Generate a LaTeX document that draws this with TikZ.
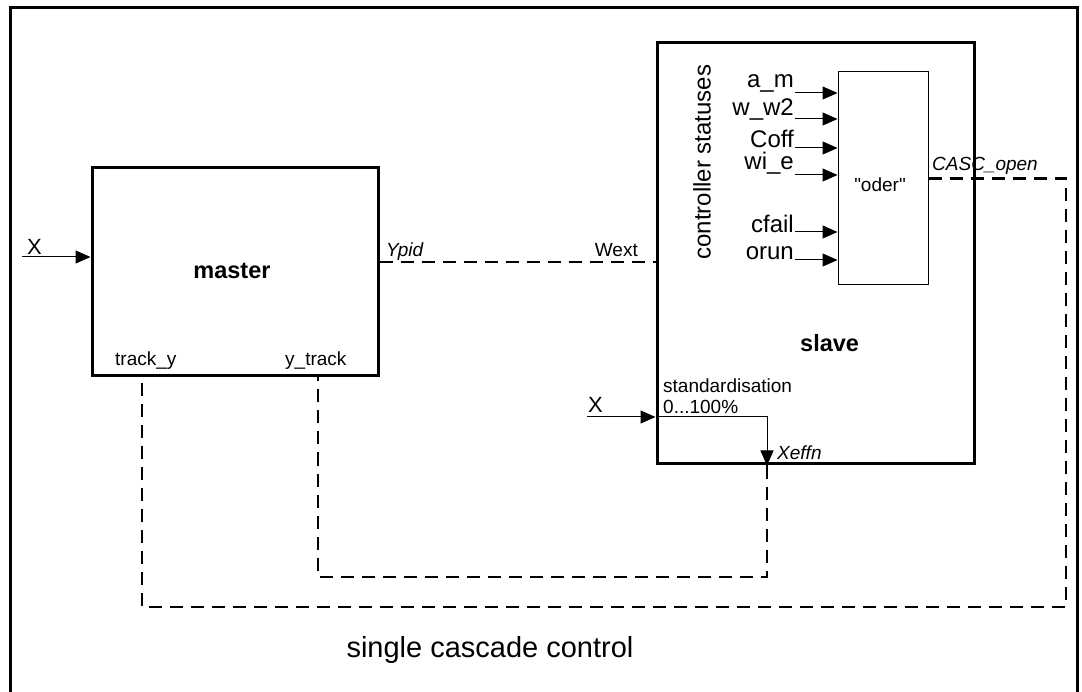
\documentclass[tikz,border=0pt]{standalone}
\usepackage{fontspec}
\setmainfont{Liberation Sans}[Ligatures=TeXOff]
\usetikzlibrary{arrows.meta}
\begin{document}
\begin{tikzpicture}[x=1pt,y=-1pt,
  box/.style={draw, line width=3pt, inner sep=0pt},
  sig/.style={line width=1pt, -{Triangle[length=15pt,width=13pt]}},
  dsh/.style={line width=2.6pt, dash pattern=on 13pt off 8pt},
  lbl/.style={inner sep=0pt, font=\fontsize{19}{22}\selectfont},
  ilbl/.style={inner sep=0pt, font=\itshape\fontsize{19}{22}\selectfont},
  big/.style={inner sep=0pt, font=\fontsize{22}{26}\selectfont},
  stfont/.style={inner sep=0pt, font=\fontsize{24}{28}\selectfont},
  bold/.style={inner sep=0pt, font=\bfseries\fontsize{23.5}{27}\selectfont},
  stat/.style={stfont, anchor=base east}]
\useasboundingbox (0,0) rectangle (1082,692);
% frame
\draw[line width=3pt] (10,692) -- (10,8) -- (1077,8) -- (1077,692);
% boxes
\node[box, minimum width=286pt, minimum height=208pt] (master) at (235,272) {};
\node[bold, anchor=base] (masterlbl) at (232,279) {master};
\node[box, minimum width=317pt, minimum height=421pt] (slave) at (815.5,253.5) {};
\node[bold, anchor=base west] (slavelbl) at (800,352) {slave};
\node[draw, line width=1pt, minimum width=90pt, minimum height=213pt] (oder) at (883,178.5) {};
\node[lbl] (oderlbl) at (880,185) {"oder"};
% controller statuses
\node[stfont, rotate=90] (cs) at (702,162) {controller statuses};
\foreach \n/\y/\b/\t in {1/93/88/a\_m, 2/119/116/w\_w2, 3/148/148/Coff, 4/175/170/wi\_e, 5/232/233/cfail, 6/260/260/orun}{
  \coordinate (in\n) at (795,\y);
  \draw[sig] (in\n) -- (in\n -| oder.west);
  \node[stat] (l\n) at (794,\b) {\t};
}
% master input
\coordinate (mx) at (22,257);
\draw[sig] (mx) -- (mx -| master.west);
\node[big, anchor=base west] (mxl) at (27,255) {X};
\node[lbl, anchor=base west] (tyl) at (115,366) {track\_y};
\node[lbl, anchor=base west] (ytl) at (285,366) {y\_track};
% Ypid -> Wext
\coordinate (ypid) at ([yshift=10pt]master.east);
\draw[dsh] (ypid) -- (ypid -| slave.west);
\node[ilbl, anchor=base west] (ypidl) at (386,257) {Ypid};
\node[lbl, anchor=base east] (wextl) at (638,257) {Wext};
% slave input
\coordinate (sx) at (587,417);
\coordinate (bend) at (767,417);
\draw[sig] (sx) -- (sx -| slave.west);
\draw[sig] (sx -| slave.west) -- (bend) -- (bend |- slave.south);
\node[big, anchor=base west] (sxl) at (588,413) {X};
\node[lbl, anchor=base west] (stdl) at (663,393) {standardisation};
\node[lbl, anchor=base west] (pctl) at (663,414) {0...100\%};
\node[ilbl, anchor=base west] (xeffl) at (777,460) {Xeffn};
% Xeffn -> y_track
\coordinate (xe) at (bend |- slave.south);
\coordinate (d1) at (767,577);
\coordinate (d2) at (318,577);
\draw[dsh] (xe) -- (d1) -- (d2) -- (d2 |- master.south);
% CASC_open -> track_y
\coordinate (o1) at (1066,178.5);
\coordinate (o2) at (1066,607);
\coordinate (o3) at (142,607);
\draw[dsh] (oder.east) -- (o1) -- (o2) -- (o3) -- (o3 |- master.south);
\node[ilbl, anchor=base west] (cascl) at (932,171) {CASC\_open};
% title
\node[inner sep=0pt, font=\fontsize{29}{34}\selectfont, anchor=base] (title) at (490,657) {single cascade control};
\end{tikzpicture}
\end{document}
